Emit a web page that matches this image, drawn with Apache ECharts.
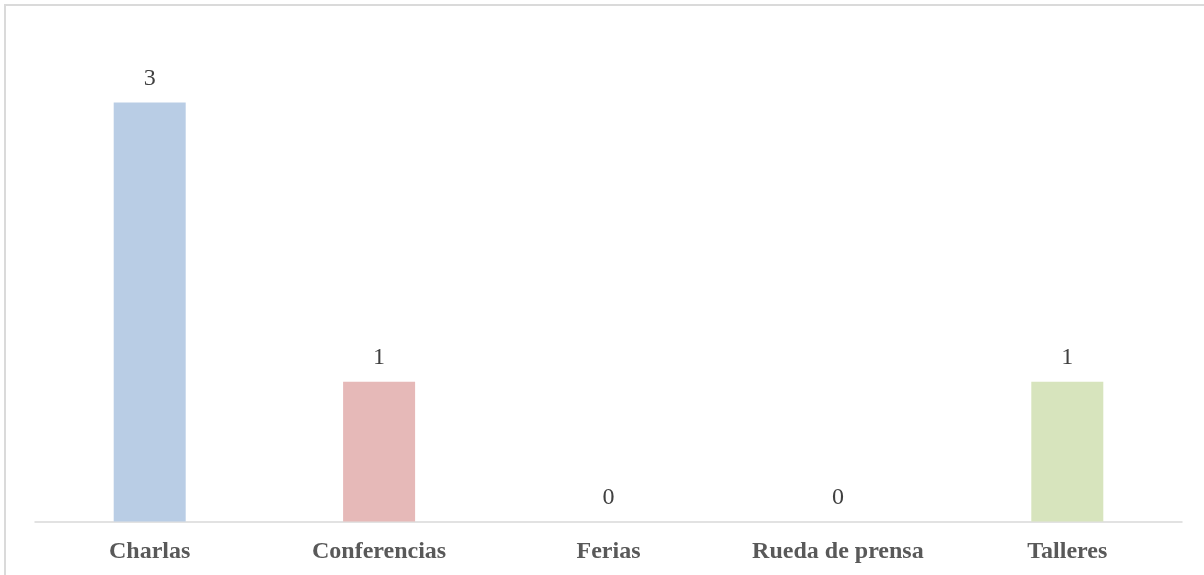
<!DOCTYPE html>
<html>
<head>
<meta charset="utf-8">
<script src="https://cdn.jsdelivr.net/npm/echarts@6/dist/echarts.min.js"></script>
<style>
  html, body { margin: 0; padding: 0; background: #fff; overflow: hidden; }
  #chart {
    position: absolute;
    left: 4px;
    top: 4px;
    width: 1200px;
    height: 571px;
    border-left: 2px solid #DADADA;
    border-top: 2px solid #DADADA;
  }
</style>
</head>
<body>
<div id="chart"></div>
<script>
  // datos
  var categorias = ['Charlas', 'Conferencias', 'Ferias', 'Rueda de prensa', 'Talleres'];
  var valores = [3, 1, 0, 0, 1];
  var colores = ['#B9CDE5', '#E6B9B8', '#CCC1DA', '#B7DEE8', '#D7E4BD'];

  var chart = echarts.init(document.getElementById('chart'));
  chart.setOption({
    animation: false,
    grid: {
      left: 29,
      right: 24,
      top: 96.5,
      bottom: 55.5
    },
    xAxis: {
      type: 'category',
      data: categorias,
      axisLine: { lineStyle: { color: '#D9D9D9', width: 1.5 } },
      axisTick: { show: false },
      axisLabel: {
        margin: 18,
        fontFamily: 'Liberation Serif',
        fontWeight: 'bold',
        fontSize: 24,
        color: '#595959'
      }
    },
    yAxis: {
      type: 'value',
      min: 0,
      max: 3,
      show: false
    },
    series: [{
      type: 'bar',
      barWidth: 72,
      data: valores.map(function (v, i) {
        return { value: v, itemStyle: { color: colores[i] } };
      }),
      label: {
        show: true,
        position: 'top',
        distance: 12,
        fontFamily: 'Liberation Serif',
        fontSize: 24,
        color: '#404040'
      }
    }]
  });
</script>
</body>
</html>
